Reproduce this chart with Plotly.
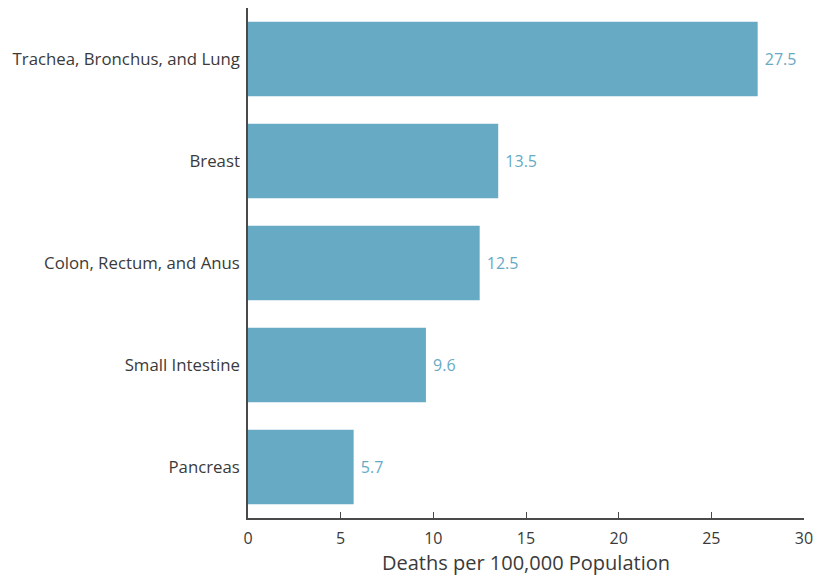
import plotly.graph_objects as go

categories = ["Trachea, Bronchus, and Lung", "Breast", "Colon, Rectum, and Anus", "Small Intestine", "Pancreas"]
values = [27.5, 13.5, 12.5, 9.6, 5.7]
x_ticks = [0, 5, 10, 15, 20, 25, 30]

bar_color = "#67aac4"
axis_color = "#4a4a4a"
font_family = "Open Sans, Noto Sans, sans-serif"

fig = go.Figure(go.Bar(
    x=values,
    y=categories,
    orientation="h",
    marker=dict(color=bar_color, line=dict(width=0)),
    text=[f" {v:.1f}" for v in values],
    textposition="outside",
    textfont=dict(color=bar_color, size=16, family=font_family),
    cliponaxis=False,
    width=0.73,
))

# page body has an 8px margin, so the figure is sized to fit the remaining area
fig.update_layout(
    width=819, height=572,
    margin=dict(l=240, r=23, t=0, b=62, autoexpand=False),
    plot_bgcolor="white", paper_bgcolor="white",
    showlegend=False,
    font=dict(family=font_family, color="#3a3a3a"),
    xaxis=dict(
        range=[0, 30], tickvals=x_ticks, ticks="inside", ticklen=6,
        tickcolor=axis_color, showline=True, linecolor=axis_color, linewidth=1.5,
        showgrid=False, zeroline=False, automargin=False, ticklabelstandoff=5,
        tickfont=dict(size=16, color="#3a3a3a"),
        title=dict(text="Deaths per 100,000 Population", font=dict(size=20, color="#3a3a3a"), standoff=8),
    ),
    yaxis=dict(
        categoryorder="array", categoryarray=categories[::-1],
        range=[-0.5, 4.5],
        showline=True, linecolor=axis_color, linewidth=1.5,
        showgrid=False, zeroline=False, ticks="", ticklabelstandoff=3,
        automargin=False,
        tickfont=dict(size=16.8, color="#3a3a3a"),
    ),
)

fig.write_html("out.html")
